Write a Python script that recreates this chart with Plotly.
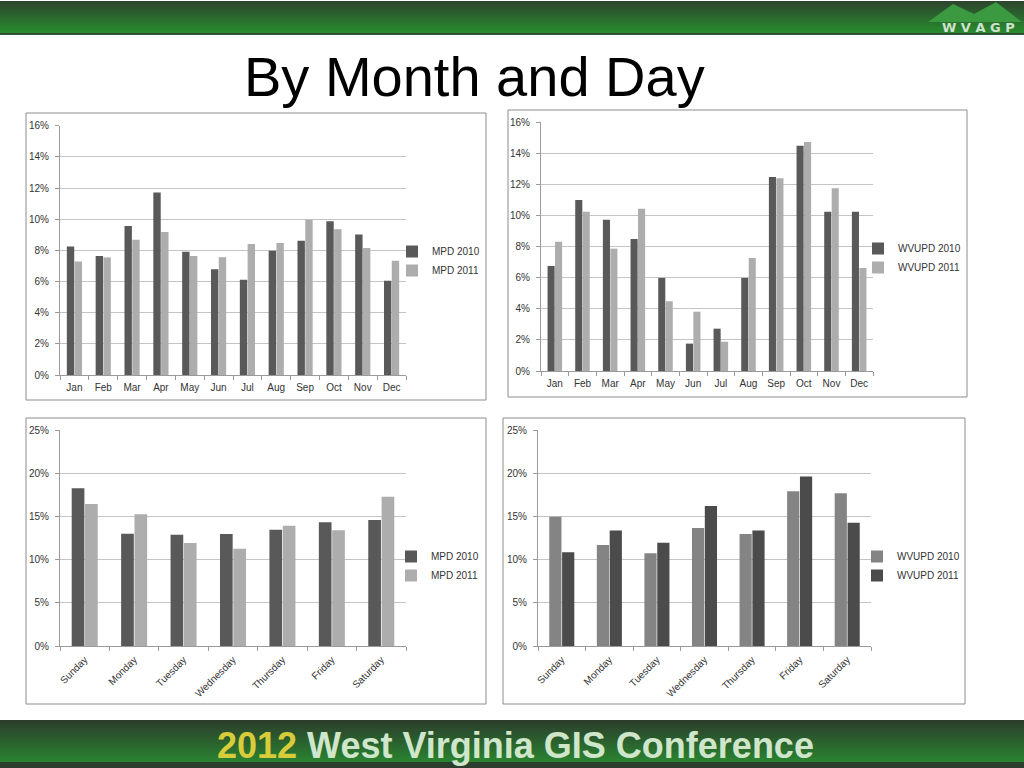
import plotly.graph_objects as go

# ---------------- data ----------------
months = ["Jan", "Feb", "Mar", "Apr", "May", "Jun", "Jul", "Aug", "Sep", "Oct", "Nov", "Dec"]
days = ["Sunday", "Monday", "Tuesday", "Wednesday", "Thursday", "Friday", "Saturday"]

mpd_2010_month = [8.24, 7.64, 9.56, 11.72, 7.91, 6.78, 6.12, 7.98, 8.62, 9.86, 9.01, 6.05]
mpd_2011_month = [7.29, 7.55, 8.68, 9.18, 7.64, 7.55, 8.41, 8.47, 9.97, 9.35, 8.15, 7.34]
wvupd_2010_month = [6.75, 10.99, 9.72, 8.48, 5.98, 1.76, 2.72, 5.98, 12.47, 14.48, 10.24, 10.24]
wvupd_2011_month = [8.31, 10.24, 7.86, 10.43, 4.48, 3.81, 1.88, 7.26, 12.38, 14.71, 11.74, 6.62]

mpd_2010_day = [18.25, 13.00, 12.89, 12.96, 13.46, 14.31, 14.58]
mpd_2011_day = [16.44, 15.24, 11.92, 11.27, 13.93, 13.39, 17.28]
wvupd_2010_day = [14.96, 11.69, 10.73, 13.65, 12.96, 17.92, 17.69]
wvupd_2011_day = [10.85, 13.38, 11.96, 16.19, 13.38, 19.62, 14.27]

month_ticks = [0, 2, 4, 6, 8, 10, 12, 14, 16]
day_ticks = [0, 5, 10, 15, 20, 25]

# ---------------- styling ----------------
W, H = 1024, 768
def px(x): return x / W
def py(y): return 1 - y / H

DARK = "#595959"
LIGHT = "#ADADAD"
MID = "#848484"
DARK2 = "#4B4B4B"
FONT = "Liberation Sans Narrow, Liberation Sans, Arial, sans-serif"
TICKFONT = dict(family=FONT, size=10, color="#333333")
GRID = "#C4C4C4"
AXIS = "#9A9A9A"

fig = go.Figure()

panels = [
    (months, mpd_2010_month, mpd_2011_month, ("MPD 2010", "MPD 2011"), (DARK, LIGHT), "x", "y", "legend"),
    (months, wvupd_2010_month, wvupd_2011_month, ("WVUPD 2010", "WVUPD 2011"), (DARK, LIGHT), "x2", "y2", "legend2"),
    (days, mpd_2010_day, mpd_2011_day, ("MPD 2010", "MPD 2011"), (DARK, LIGHT), "x3", "y3", "legend3"),
    (days, wvupd_2010_day, wvupd_2011_day, ("WVUPD 2010", "WVUPD 2011"), (MID, DARK2), "x4", "y4", "legend4"),
]

for cats, s1, s2, names, cols, xa, ya, lg in panels:
    for vals, nm, c in ((s1, names[0], cols[0]), (s2, names[1], cols[1])):
        fig.add_trace(go.Bar(
            x=cats, y=vals, name=nm, xaxis=xa, yaxis=ya, legend=lg,
            marker=dict(color=c, line=dict(width=0)),
            hoverinfo="skip",
        ))

domains = {
    "1": ((60, 406), (125.7, 375)),
    "2": ((541, 873), (122, 371)),
    "3": ((60, 406), (430, 646)),
    "4": ((538, 871), (430, 646)),
}
yr = {"1": month_ticks, "2": month_ticks, "3": day_ticks, "4": day_ticks}

layout = {}
for k, ((x0, x1), (y0, y1)) in domains.items():
    xs = "xaxis" if k == "1" else f"xaxis{k}"
    ys = "yaxis" if k == "1" else f"yaxis{k}"
    anchor_y = "y" if k == "1" else f"y{k}"
    anchor_x = "x" if k == "1" else f"x{k}"
    ticks = yr[k]
    layout[xs] = dict(
        domain=[px(x0), px(x1)], anchor=anchor_y, type="category",
        showline=True, linecolor=AXIS, linewidth=1,
        ticks="outside", tickson="boundaries", ticklen=4, tickcolor=AXIS,
        tickfont=TICKFONT, tickangle=(0 if k in ("1", "2") else -45),
        ticklabelstandoff=3,
        showgrid=False, fixedrange=True, automargin=False,
    )
    layout[ys] = dict(
        domain=[py(y1), py(y0)], anchor=anchor_x,
        range=[ticks[0], ticks[-1]], tickmode="array", tickvals=ticks,
        ticktext=[f"{t}%" for t in ticks],
        showgrid=True, gridcolor=GRID, gridwidth=1,
        showline=True, linecolor=AXIS, linewidth=1,
        ticks="outside", ticklen=4, tickcolor=AXIS, ticklabelstandoff=4,
        tickfont=TICKFONT, zeroline=False, fixedrange=True, automargin=False,
    )

legend_pos = {
    "legend": (432, 247),
    "legend2": (898, 244),
    "legend3": (431, 552),
    "legend4": (897, 552),
}
for lg, (tx, ty) in legend_pos.items():
    layout[lg] = dict(
        x=px(tx - 40), y=py(ty - 10), xanchor="left", yanchor="top",
        bgcolor="rgba(0,0,0,0)", borderwidth=0,
        font=dict(family=FONT, size=10, color="#333333"),
        itemwidth=30, tracegroupgap=0,
    )

shapes = []
for (x0, y0, x1, y1) in [(26, 113, 486, 400), (508, 110, 967, 397), (26, 418, 486, 704), (503, 418, 965, 704)]:
    shapes.append(dict(type="rect", xref="paper", yref="paper",
                       x0=px(x0), x1=px(x1), y0=py(y1), y1=py(y0),
                       line=dict(color="#8C8C8C", width=1), fillcolor="rgba(0,0,0,0)", layer="below"))

def lerp(c0, c1, t):
    return "#%02x%02x%02x" % tuple(int(round(a + (b - a) * t)) for a, b in zip(c0, c1))

# top banner gradient
top_c0, top_c1 = (46, 70, 46), (40, 138, 46)
n = 16
for i in range(n):
    ya0 = 1 + i * 2
    shapes.append(dict(type="rect", xref="paper", yref="paper", x0=0, x1=1,
                       y0=py(ya0 + 3), y1=py(ya0), line=dict(width=0),
                       fillcolor=lerp(top_c0, top_c1, i / (n - 1)), layer="below"))
shapes.append(dict(type="rect", xref="paper", yref="paper", x0=0, x1=1,
                   y0=py(35), y1=py(33), line=dict(width=0), fillcolor="#34503a", layer="below"))
shapes.append(dict(type="path", xref="paper", yref="paper",
                   path=f"M {px(928)},{py(22)} L {px(953)},{py(4)} L {px(974)},{py(14)} L {px(996)},{py(2)} L {px(1022)},{py(22)} Z",
                   line=dict(width=0), fillcolor="#3b9a3f", layer="below"))

# bottom banner gradient
bot_c0, bot_c1 = (44, 62, 44), (42, 130, 48)
n2 = 21
for i in range(n2):
    ya0 = 720 + i * 2
    shapes.append(dict(type="rect", xref="paper", yref="paper", x0=0, x1=1,
                       y0=py(ya0 + 3), y1=py(ya0), line=dict(width=0),
                       fillcolor=lerp(bot_c0, bot_c1, i / (n2 - 1)), layer="below"))
shapes.append(dict(type="rect", xref="paper", yref="paper", x0=0, x1=1,
                   y0=py(768), y1=py(762), line=dict(width=0), fillcolor="#2c3e2e", layer="below"))

annotations = [
    dict(text="By Month and Day", xref="paper", yref="paper", x=px(474), y=py(76),
         xanchor="center", yanchor="middle", showarrow=False,
         font=dict(family=FONT, size=56, color="#000000")),
    dict(text="<b><span style='color:#D8CC3A'>2012</span> West Virginia GIS Conference</b>",
         xref="paper", yref="paper", x=px(515), y=py(745), xanchor="center", yanchor="middle",
         showarrow=False, font=dict(family=FONT, size=36, color="#CFE6CB")),
    dict(text="<b>W V A G P</b>", xref="paper", yref="paper", x=px(978), y=py(27),
         xanchor="center", yanchor="middle", showarrow=False,
         font=dict(family="DejaVu Sans, sans-serif", size=13, color="#CDE3CD")),
]

fig.update_layout(
    autosize=True, margin=dict(l=0, r=0, t=0, b=0, pad=0),
    paper_bgcolor="white", plot_bgcolor="white",
    barmode="group", bargap=0.46, bargroupgap=0.05,
    shapes=shapes, annotations=annotations,
    **layout,
)

fig.write_html(
    "out.html",
    default_width="100vw",
    default_height="100vh",
    config={"displayModeBar": False, "responsive": True},
    post_script=(
        "document.documentElement.style.margin='0';"
        "document.documentElement.style.overflow='hidden';"
        "document.body.style.margin='0';document.body.style.padding='0';"
        "document.body.style.overflow='hidden';"
        "var gd=document.getElementById('{plot_id}');"
        "Plotly.Plots.resize(gd);"
    ),
)
